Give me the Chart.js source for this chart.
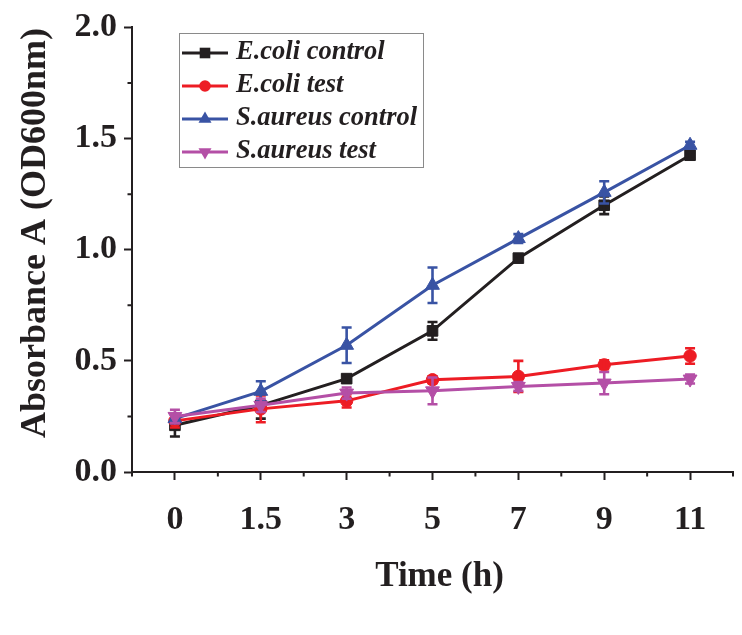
<!DOCTYPE html>
<html>
<head>
<meta charset="utf-8">
<script src="https://cdn.jsdelivr.net/npm/chart.js@4.4.1/dist/chart.umd.min.js"></script>
<style>
  html, body { margin: 0; padding: 0; background: #fff; }
  .chart-container { width: 742px; height: 635px; position: relative; }
</style>
</head>
<body>
<div class="chart-container"><canvas id="myChart"></canvas></div>
<script>
// time points (categories, evenly spaced on the axis)
const times = ["0", "1.5", "3", "5", "7", "9", "11"];

// OD600 readings and their error bars
const ecoliControl = [0.21, 0.30, 0.42, 0.635, 0.962, 1.20, 1.425];
const ecoliControlErr = [0.05, 0.06, 0.015, 0.04, 0.01, 0.04, 0.015];
const ecoliTest = [0.23, 0.284, 0.32, 0.415, 0.43, 0.482, 0.522];
const ecoliTestErr = [0.03, 0.06, 0.03, 0.015, 0.07, 0.02, 0.035];
const aureusControl = [0.24, 0.363, 0.57, 0.84, 1.05, 1.258, 1.47];
const aureusControlErr = [0.02, 0.045, 0.08, 0.08, 0.02, 0.05, 0.015];
const aureusTest = [0.25, 0.30, 0.355, 0.365, 0.385, 0.40, 0.418];
const aureusTestErr = [0.03, 0.03, 0.025, 0.06, 0.02, 0.05, 0.02];

const yTicks = [0, 0.5, 1.0, 1.5, 2.0];
const yMinorTicks = [0.25, 0.75, 1.25, 1.75];

const seriesNames = ["E.coli control", "E.coli test", "S.aureus control", "S.aureus test"];

const SERIF = "'Liberation Serif', 'Times New Roman', serif";
const INK = "#231f20";

function makeSet(label, data, errors, color, pointStyle, radius, rotation, order) {
  return {
    label: label,
    data: data,
    errors: errors,
    borderColor: color,
    backgroundColor: color,
    borderWidth: 3,
    pointStyle: pointStyle,
    pointRadius: radius,
    pointRotation: rotation,
    pointBorderWidth: 1,
    tension: 0,
    fill: false,
    order: order,
  };
}

const datasets = [
  makeSet(seriesNames[0], ecoliControl, ecoliControlErr, "#231f20", "rect", 7.5, 0, 4),
  makeSet(seriesNames[1], ecoliTest, ecoliTestErr, "#ed1c24", "circle", 6.2, 0, 3),
  makeSet(seriesNames[2], aureusControl, aureusControlErr, "#3953a4", "triangle", 8, 0, 2),
  makeSet(seriesNames[3], aureusTest, aureusTestErr, "#b44fa6", "triangle", 8, 180, 1),
];

// small marker drawing for the legend
function drawMarker(ctx, style, rotation, x, y, r) {
  ctx.beginPath();
  if (style === "rect") {
    const s = r * Math.SQRT1_2;
    ctx.rect(x - s, y - s, 2 * s, 2 * s);
  } else if (style === "circle") {
    ctx.arc(x, y, r, 0, Math.PI * 2);
  } else {
    let rad = (rotation * Math.PI) / 180;
    ctx.moveTo(x + Math.sin(rad) * r, y - Math.cos(rad) * r);
    rad += (2 * Math.PI) / 3;
    ctx.lineTo(x + Math.sin(rad) * r, y - Math.cos(rad) * r);
    rad += (2 * Math.PI) / 3;
    ctx.lineTo(x + Math.sin(rad) * r, y - Math.cos(rad) * r);
    ctx.closePath();
  }
  ctx.fill();
}

const extras = {
  id: "extras",
  // error bars, drawn with each series
  afterDatasetDraw(chart, args) {
    const ds = chart.data.datasets[args.index];
    const yScale = chart.scales.y;
    const ctx = chart.ctx;
    ctx.save();
    ctx.strokeStyle = ds.borderColor;
    ctx.lineWidth = 2.6;
    args.meta.data.forEach((pt, i) => {
      const e = ds.errors[i];
      const top = yScale.getPixelForValue(ds.data[i] + e);
      const bot = yScale.getPixelForValue(ds.data[i] - e);
      ctx.beginPath();
      ctx.moveTo(pt.x, top);
      ctx.lineTo(pt.x, bot);
      ctx.moveTo(pt.x - 5, top);
      ctx.lineTo(pt.x + 5, top);
      ctx.moveTo(pt.x - 5, bot);
      ctx.lineTo(pt.x + 5, bot);
      ctx.stroke();
    });
    ctx.restore();
  },
  afterDraw(chart) {
    const ctx = chart.ctx;
    const { x: xScale, y: yScale } = chart.scales;
    const area = chart.chartArea;
    ctx.save();

    // minor ticks
    ctx.strokeStyle = INK;
    ctx.lineWidth = 2;
    ctx.beginPath();
    yMinorTicks.forEach((v) => {
      const py = yScale.getPixelForValue(v);
      ctx.moveTo(area.left - 4.5, py);
      ctx.lineTo(area.left, py);
    });
    for (let i = 0; i <= times.length; i++) {
      const px = xScale.getPixelForValue(i - 0.5);
      ctx.moveTo(px, area.bottom);
      ctx.lineTo(px, area.bottom + 4.5);
    }
    ctx.stroke();

    // axis titles
    ctx.fillStyle = INK;
    ctx.textAlign = "center";
    ctx.textBaseline = "middle";
    ctx.font = "bold 35px " + SERIF;
    ctx.fillText("Time (h)", 439.5, 576.5);
    ctx.save();
    ctx.translate(36, 233);
    ctx.rotate(-Math.PI / 2);
    ctx.font = "bold 36px " + SERIF;
    ctx.fillText("Absorbance A (OD600nm)", 0, 0);
    ctx.restore();

    // legend box
    const lx = 179, ly = 33, lw = 244, lh = 134;
    ctx.strokeStyle = "#8a8a8a";
    ctx.lineWidth = 1;
    ctx.strokeRect(lx + 0.5, ly + 0.5, lw, lh);
    ctx.textAlign = "left";
    ctx.font = "italic bold 26.5px " + SERIF;
    chart.data.datasets.forEach((ds, i) => {
      const ry = 53 + i * 33;
      ctx.strokeStyle = ds.borderColor;
      ctx.fillStyle = ds.borderColor;
      ctx.lineWidth = 3;
      ctx.beginPath();
      ctx.moveTo(182, ry);
      ctx.lineTo(228, ry);
      ctx.stroke();
      drawMarker(ctx, ds.pointStyle, ds.pointRotation, 205, ry, ds.pointStyle === "circle" ? 5.8 : 7.5);
      ctx.fillStyle = INK;
      ctx.fillText(ds.label, 236, ry - 1);
    });
    ctx.restore();
  },
};

const ctx = document.getElementById("myChart").getContext("2d");
new Chart(ctx, {
  type: "line",
  data: { labels: times, datasets: datasets },
  options: {
    responsive: true,
    maintainAspectRatio: false,
    animation: false,
    layout: { padding: { top: 21, right: 9, left: 0, bottom: 0 } },
    plugins: { legend: { display: false }, tooltip: { enabled: false } },
    scales: {
      x: {
        offset: true,
        grid: { display: true, drawOnChartArea: false, offset: false, tickLength: 8, tickColor: INK, tickWidth: 2 },
        border: { display: true, color: INK, width: 2 },
        ticks: { color: INK, padding: 20, font: { family: SERIF, size: 34, weight: "bold" } },
        afterFit: (scale) => { scale.height = 163; },
      },
      y: {
        min: 0,
        max: 2,
        afterBuildTicks: (scale) => { scale.ticks = yTicks.map((v) => ({ value: v })); },
        grid: { display: true, drawOnChartArea: false, tickLength: 8, tickColor: INK, tickWidth: 2 },
        border: { display: true, color: INK, width: 2 },
        ticks: {
          color: INK,
          padding: 7,
          font: { family: SERIF, size: 34, weight: "bold" },
          callback: (v) => Number(v).toFixed(1),
        },
        afterFit: (scale) => { scale.width = 132; },
      },
    },
  },
  plugins: [extras],
});
</script>
</body>
</html>
